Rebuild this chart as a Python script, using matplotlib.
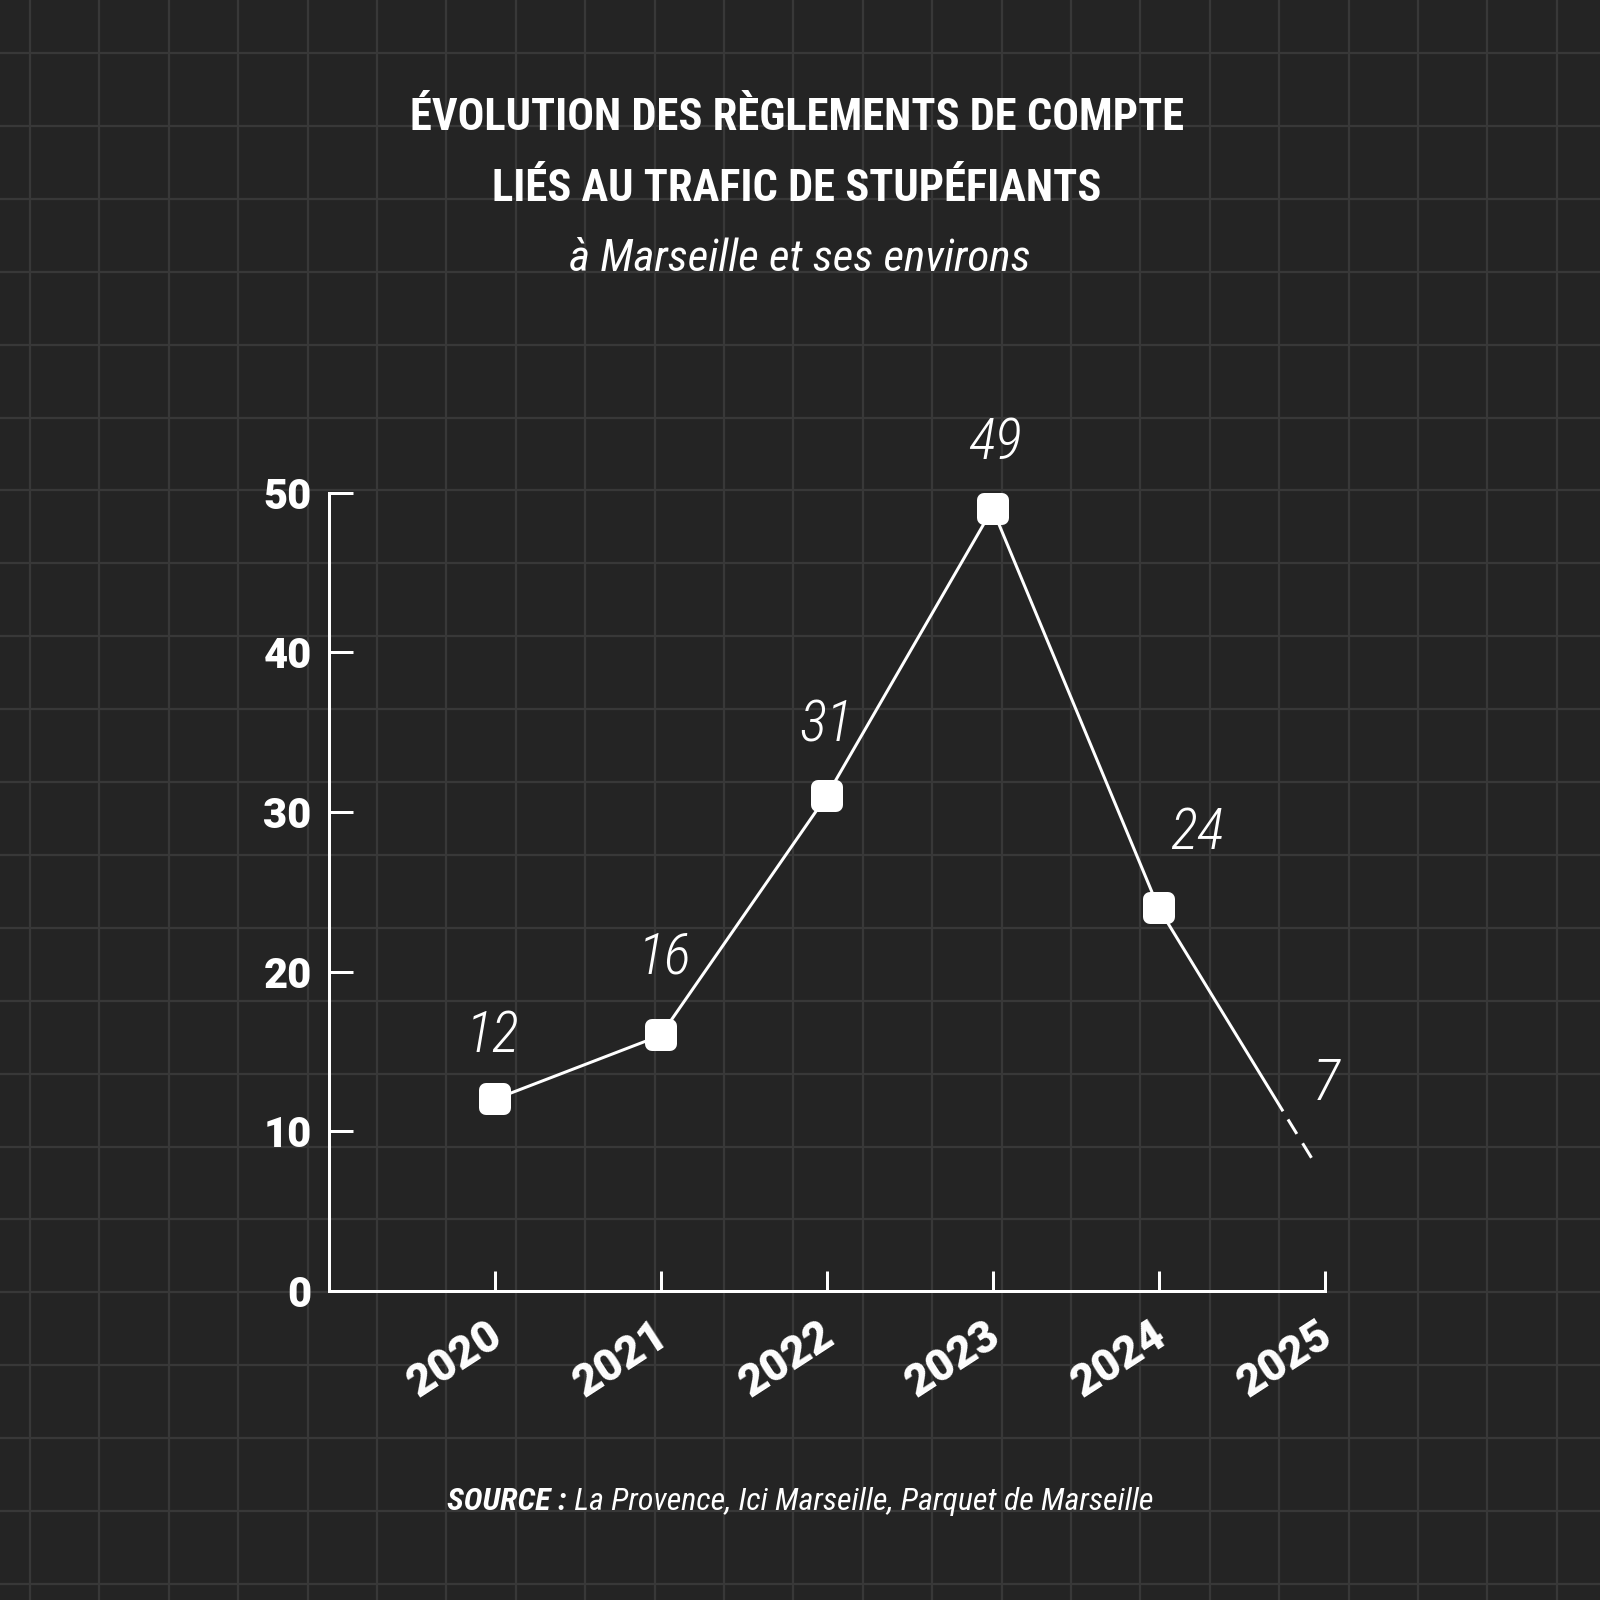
import numpy as np
import matplotlib
matplotlib.use('Agg')
import matplotlib.pyplot as plt
from matplotlib import font_manager
from matplotlib.markers import MarkerStyle
from matplotlib.transforms import ScaledTranslation

# Donnees du graphique
years = [2020, 2021, 2022, 2023, 2024, 2025]
values = [12, 16, 31, 49, 24, 7]
y_ticks = [0, 10, 20, 30, 40, 50]
title_lines = ['ÉVOLUTION DES RÈGLEMENTS DE COMPTE', 'LIÉS AU TRAFIC DE STUPÉFIANTS']
subtitle = 'à Marseille et ses environs'
source_bold = 'SOURCE :'
source_text = ' La Provence, Ici Marseille, Parquet de Marseille'

# decalage des etiquettes (pixels) par rapport aux points
label_dx = [-2, 4, 0, 2, 38, 2]
label_dy = [63, 77, 70, 65, 74, 95]

BG = '#242424'
GRID = '#383838'
W = 1600
DPI = 100

installed = {f.name for f in font_manager.fontManager.ttflist}
cond = next((f for f in ['Roboto Condensed', 'Liberation Sans Narrow', 'DejaVu Sans']
             if f in installed), 'DejaVu Sans')
heavy = next((f for f in ['Roboto', 'DejaVu Sans'] if f in installed), 'DejaVu Sans')
plt.rcParams['font.family'] = [cond, 'DejaVu Sans']
plt.rcParams['lines.scale_dashes'] = False

def px(v):
    return v * 72 / DPI

fig = plt.figure(figsize=(W / DPI, W / DPI), dpi=DPI, facecolor=BG)

# fond quadrille
bg = fig.add_axes([0, 0, 1, 1])
bg.set_xlim(0, W)
bg.set_ylim(W, 0)
bg.axis('off')
bg.set_facecolor(BG)
for gx in np.arange(30, W, 69.4):
    bg.axvline(gx, color=GRID, lw=px(2.2), zorder=0)
for gy in np.arange(53, W, 72.9):
    bg.axhline(gy, color=GRID, lw=px(2.2), zorder=0)

# titres
bg.text(797, 130, title_lines[0], color='white', fontsize=32, fontweight='bold',
        ha='center', va='baseline')
bg.text(797, 201, title_lines[1], color='white', fontsize=32, fontweight='bold',
        ha='center', va='baseline')
bg.text(800, 271, subtitle, color='white', fontsize=32.5, style='italic',
        ha='center', va='baseline')

# source : partie grasse + partie normale, centrees ensemble
renderer = fig.canvas.get_renderer()
t1 = bg.text(0, 1510, source_bold, color='white', fontsize=23, fontweight='bold',
             style='italic', ha='left', va='baseline')
t2 = bg.text(0, 1510, source_text, color='white', fontsize=23, style='italic',
             ha='left', va='baseline')
w1 = t1.get_window_extent(renderer).width
w2 = t2.get_window_extent(renderer).width
x0 = 800 - (w1 + w2) / 2
t1.set_x(x0)
t2.set_x(x0 + w1)

# axes principaux
left, right = 328.6, 1324.5
top, bottom = 492.9, 1290.8
ax = fig.add_axes([left / W, 1 - bottom / W, (right - left) / W, (bottom - top) / W])
ax.set_facecolor('none')
ax.set_xlim(2019, 2025)
ax.set_ylim(0, 50)
for s in ['top', 'right']:
    ax.spines[s].set_visible(False)
for s in ['left', 'bottom']:
    ax.spines[s].set_color('white')
    ax.spines[s].set_linewidth(px(3))
    ax.spines[s].set_capstyle('projecting')

ax.set_xticks(years)
ax.set_xticklabels([str(y) for y in years], rotation=33, ha='right', va='top',
                   rotation_mode='anchor')
ax.set_yticks(y_ticks)
ax.set_yticklabels([str(v) for v in y_ticks])
ax.tick_params(axis='x', direction='in', length=px(20), width=px(3), color='white',
               labelcolor='white', labelsize=32, pad=px(23))
ax.tick_params(axis='y', direction='in', length=px(24), width=px(3), color='white',
               labelcolor='white', labelsize=30, pad=px(17))
shift = ScaledTranslation(-7 / DPI, 0, fig.dpi_scale_trans)
for lab in ax.get_xticklabels():
    lab.set_transform(lab.get_transform() + shift)
for lab in ax.get_xticklabels() + ax.get_yticklabels():
    lab.set_family([heavy, 'DejaVu Sans'])
    lab.set_fontweight('black')

# ligne : pleine jusqu'en 2024, puis partielle vers 2025
ax.plot(years[:5], values[:5], color='white', lw=px(3), solid_capstyle='round',
        zorder=3, clip_on=False)
xa, ya = years[4], values[4]
xb, yb = years[5], values[5]
t_solid, t_dash0, t_dash1 = 0.75, 0.78, 0.925
ax.plot([xa, xa + t_solid * (xb - xa)], [ya, ya + t_solid * (yb - ya)],
        color='white', lw=px(3), solid_capstyle='butt', zorder=3, clip_on=False)
ax.plot([xa + t_dash0 * (xb - xa), xa + t_dash1 * (xb - xa)],
        [ya + t_dash0 * (yb - ya), ya + t_dash1 * (yb - ya)],
        color='white', lw=px(3), dashes=(px(17), px(11)), dash_capstyle='butt',
        zorder=3, clip_on=False)

marker = MarkerStyle('s', joinstyle='round')
ax.plot(years[:5], values[:5], linestyle='none', marker=marker, ms=px(18),
        mfc='white', mec='white', mew=px(14), zorder=4, clip_on=False)

# etiquettes de valeurs
for x, v, dx, dy in zip(years, values, label_dx, label_dy):
    ax.annotate(str(v), (x, v), xytext=(px(dx), px(dy)), textcoords='offset points',
                ha='center', va='center', color='white', fontsize=41,
                style='italic', fontweight='light', annotation_clip=False)

fig.savefig('out.png', dpi=DPI, facecolor=BG)
